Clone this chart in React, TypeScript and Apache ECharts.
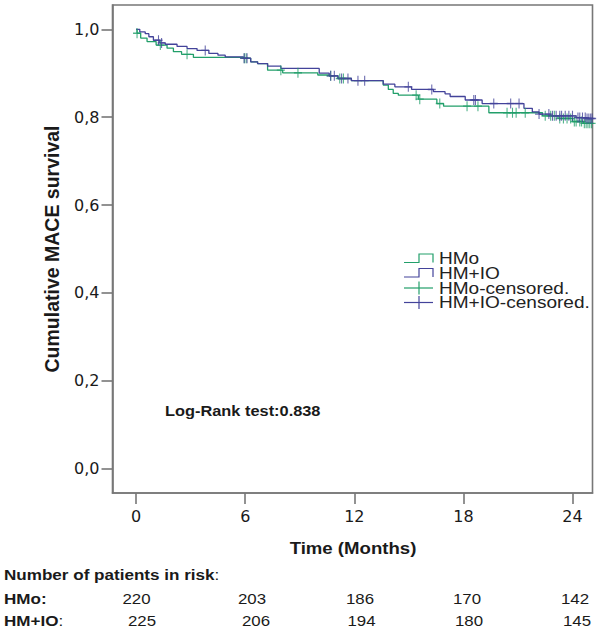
import { useEffect, useRef } from 'react';
import * as echarts from 'echarts';

// ---------- data ----------
const timeTicks = [0, 6, 12, 18, 24];
const survivalTicks = [0, 0.2, 0.4, 0.6, 0.8, 1.0];

// Kaplan-Meier steps [time (months), cumulative survival]
const hmoSteps: [number, number][] = [
  [0, 1.0], [0.05, 0.991], [0.25, 0.98], [0.6, 0.972], [1.1, 0.964], [1.7, 0.957],
  [2.05, 0.949], [2.5, 0.943], [3.15, 0.936], [5.9, 0.934], [6.3, 0.926], [6.68, 0.922],
  [7.23, 0.907], [8.06, 0.901], [9.99, 0.896], [10.62, 0.894], [11.1, 0.888], [11.84, 0.883],
  [13.59, 0.873], [13.87, 0.863], [14.14, 0.854], [14.42, 0.85], [15.52, 0.841], [16.54, 0.831],
  [16.91, 0.825], [19.4, 0.81], [22.35, 0.803], [23.2, 0.797], [24.0, 0.79], [24.6, 0.786],
  [25.1, 0.786],
];
const hmioSteps: [number, number][] = [
  [0, 1.0], [0.2, 0.994], [0.5, 0.99], [0.7, 0.983], [0.95, 0.975], [1.3, 0.969], [1.6, 0.966],
  [2.25, 0.961], [2.8, 0.956], [3.35, 0.952], [4.0, 0.945], [4.5, 0.941], [4.9, 0.937],
  [5.9, 0.934], [6.3, 0.926], [6.68, 0.922], [7.23, 0.916], [7.96, 0.911], [10.07, 0.9],
  [10.62, 0.894], [11.1, 0.888], [11.84, 0.883], [13.59, 0.875], [14.23, 0.869], [15.15, 0.863],
  [16.35, 0.858], [16.99, 0.853], [17.27, 0.847], [18.1, 0.839], [19.03, 0.831], [21.33, 0.82],
  [21.79, 0.812], [22.16, 0.807], [22.8, 0.803], [24.2, 0.799], [24.8, 0.797], [25.1, 0.797],
];
const hmoCensored: [number, number][] = [
  [0.05, 0.991], [1.33, 0.964], [2.8, 0.943], [5.95, 0.934], [6.05, 0.934], [7.96, 0.907],
  [8.9, 0.901], [10.7, 0.894], [11.2, 0.888], [11.4, 0.888], [15.4, 0.85], [15.6, 0.841],
  [16.7, 0.831], [18.2, 0.825], [18.8, 0.825], [20.4, 0.81], [20.7, 0.81], [20.9, 0.81],
  [21.4, 0.81], [22.5, 0.803], [22.8, 0.803], [23.0, 0.803], [23.3, 0.797], [23.5, 0.797],
  [23.7, 0.797], [23.9, 0.797], [24.1, 0.79], [24.2, 0.79], [24.4, 0.79], [24.5, 0.79],
  [24.65, 0.786], [24.75, 0.786], [24.85, 0.786], [24.95, 0.786], [25.05, 0.786],
];
const hmioCensored: [number, number][] = [
  [1.23, 0.975], [1.4, 0.969], [3.8, 0.952], [5.94, 0.934], [6.1, 0.934], [10.7, 0.894],
  [10.9, 0.894], [11.3, 0.888], [11.65, 0.888], [12.2, 0.883], [12.57, 0.883], [14.97, 0.869],
  [16.26, 0.863], [18.57, 0.839], [18.66, 0.839], [19.67, 0.831], [20.6, 0.831], [21.06, 0.831],
  [22.16, 0.807], [22.7, 0.807], [22.9, 0.803], [23.1, 0.803], [23.3, 0.803], [23.4, 0.803],
  [23.6, 0.803], [23.8, 0.803], [24.0, 0.803], [24.3, 0.799], [24.4, 0.799], [24.55, 0.799],
  [24.7, 0.799], [24.8, 0.797], [24.9, 0.797], [25.0, 0.797], [25.08, 0.797],
];

const seriesNames = ['HMo', 'HM+IO', 'HMo-censored.', 'HM+IO-censored.'];
const riskLabels = ['HMo:', 'HM+IO:'];
const riskHMo = [220, 203, 186, 170, 142];
const riskHMIO = [225, 206, 194, 180, 145];
const riskTitle = 'Number of patients in risk';
const logRankText = 'Log-Rank test:0.838';
const yTitle = 'Cumulative MACE survival';
const xTitle = 'Time (Months)';

// ---------- styles / layout ----------
const GREEN = '#229f6a';
const BLUE = '#43439a';
const AXIS = '#777777';
const TXT = '#1a1a1a';
const SANS = '"Liberation Sans", Arial, Helvetica, sans-serif';
const WIDE = 1.17;
const riskX_HMo = [136.5, 252, 360, 467, 575];
const riskX_HMIO = [142, 256, 361.5, 469, 577];
const legendRowsY = [258.5, 273, 288, 302.5];

const CROSS = 'path://M0,5L10,5M5,0L5,10';

export default function App() {
  const ref = useRef<HTMLDivElement>(null);
  useEffect(() => {
    document.body.style.margin = '0';
    const chart = echarts.init(ref.current!, null, { renderer: 'svg' });

    const graphic: any[] = [];
    graphic.push({
      type: 'text', x: 52, y: 249, rotation: Math.PI / 2,
      style: { text: yTitle, fontFamily: SANS, fontWeight: 'bold', fontSize: 19.5, fill: TXT, align: 'center', verticalAlign: 'middle' },
    });
    graphic.push({
      type: 'text', x: 353, y: 548, scaleX: WIDE,
      style: { text: xTitle, fontFamily: SANS, fontWeight: 'bold', fontSize: 15.9, fill: TXT, align: 'center', verticalAlign: 'middle' },
    });
    graphic.push({
      type: 'text', x: 165, y: 411, scaleX: WIDE,
      style: { text: logRankText, fontFamily: SANS, fontWeight: 'bold', fontSize: 14, fill: TXT, align: 'left', verticalAlign: 'middle' },
    });
    // risk table
    graphic.push({
      type: 'text', x: 4, y: 575, scaleX: WIDE,
      style: {
        text: `{b|${riskTitle}}{r|:}`, align: 'left', verticalAlign: 'middle',
        rich: {
          b: { fontFamily: SANS, fontWeight: 'bold', fontSize: 14.6, fill: TXT },
          r: { fontFamily: SANS, fontWeight: 'normal', fontSize: 14.6, fill: TXT },
        },
      },
    });
    const rowY = [599, 621];
    riskLabels.forEach((lab, i) => {
      graphic.push({
        type: 'text', x: 4, y: rowY[i], scaleX: WIDE,
        style: {
          text: `{b|${lab.replace(':', '')}}{r|:}`, align: 'left', verticalAlign: 'middle',
          rich: {
            b: { fontFamily: SANS, fontWeight: 'bold', fontSize: 14.6, fill: TXT },
            r: { fontFamily: SANS, fontWeight: i === 0 ? 'bold' : 'normal', fontSize: 14.6, fill: TXT },
          },
        },
      });
    });
    [riskHMo, riskHMIO].forEach((row, i) => {
      const xs = i === 0 ? riskX_HMo : riskX_HMIO;
      row.forEach((v, j) => {
        graphic.push({
          type: 'text', x: xs[j], y: rowY[i], scaleX: WIDE,
          style: { text: String(v), fontFamily: SANS, fontSize: 14.4, fill: TXT, align: 'center', verticalAlign: 'middle' },
        });
      });
    });
    // legend
    const colors = [GREEN, BLUE, GREEN, BLUE];
    seriesNames.forEach((name, i) => {
      const c = legendRowsY[i];
      if (i < 2) {
        graphic.push({
          type: 'polyline',
          shape: { points: [[404, c + 4], [419, c + 4], [419, c - 4.5], [433, c - 4.5], [433, c + 4]] },
          style: { stroke: colors[i], fill: 'none', lineWidth: 1.2 },
        });
      } else {
        graphic.push({ type: 'line', shape: { x1: 404, y1: c, x2: 433, y2: c }, style: { stroke: colors[i], lineWidth: 1.2 } });
        graphic.push({ type: 'line', shape: { x1: 419, y1: c - 6.5, x2: 419, y2: c + 6.5 }, style: { stroke: colors[i], lineWidth: 1.2 } });
      }
      graphic.push({
        type: 'text', x: 439, y: c, scaleX: WIDE,
        style: { text: name, fontFamily: SANS, fontSize: 16.3, fill: '#222', align: 'left', verticalAlign: 'middle' },
      });
    });

    chart.setOption({
      animation: false,
      backgroundColor: '#fff',
      grid: { left: 112.5, right: 7.5, top: 5, bottom: 140, show: true, borderColor: AXIS, borderWidth: 1.6, containLabel: false },
      xAxis: {
        type: 'value', min: -1.3, max: 25.1,
        axisLine: { show: true, onZero: false, lineStyle: { color: AXIS, width: 1.6 } },
        axisTick: { show: true, length: 11, inside: false, customValues: timeTicks, lineStyle: { color: AXIS, width: 1.6 } },
        axisLabel: { customValues: timeTicks, margin: 15, color: TXT, fontSize: 16, fontFamily: '"DejaVu Sans", sans-serif' },
        splitLine: { show: false },
      },
      yAxis: {
        type: 'value', min: -0.0556, max: 1.0553,
        axisLine: { show: true, onZero: false, lineStyle: { color: AXIS, width: 1.6 } },
        axisTick: { show: true, length: 11, inside: false, customValues: survivalTicks, lineStyle: { color: AXIS, width: 1.6 } },
        axisLabel: {
          customValues: survivalTicks, margin: 13, color: TXT, fontSize: 16, fontFamily: '"DejaVu Sans", sans-serif',
          formatter: (v: number) => v.toFixed(1).replace('.', ','),
        },
        splitLine: { show: false },
      },
      graphic,
      series: [
        { name: seriesNames[0], type: 'line', step: 'end', data: hmoSteps, showSymbol: false, symbol: 'none', lineStyle: { color: GREEN, width: 1.3 }, z: 2 },
        { name: seriesNames[1], type: 'line', step: 'end', data: hmioSteps, showSymbol: false, symbol: 'none', lineStyle: { color: BLUE, width: 1.3 }, z: 3 },
        { name: seriesNames[2], type: 'scatter', data: hmoCensored, symbol: CROSS, symbolSize: [8, 10], itemStyle: { color: 'none', borderColor: GREEN, borderWidth: 1.2 }, z: 4 },
        { name: seriesNames[3], type: 'scatter', data: hmioCensored, symbol: CROSS, symbolSize: [8, 10], itemStyle: { color: 'none', borderColor: BLUE, borderWidth: 1.2 }, z: 5 },
      ],
    });
    return () => chart.dispose();
  }, []);
  return <div ref={ref} style={{ width: 600, height: 633 }} />;
}
